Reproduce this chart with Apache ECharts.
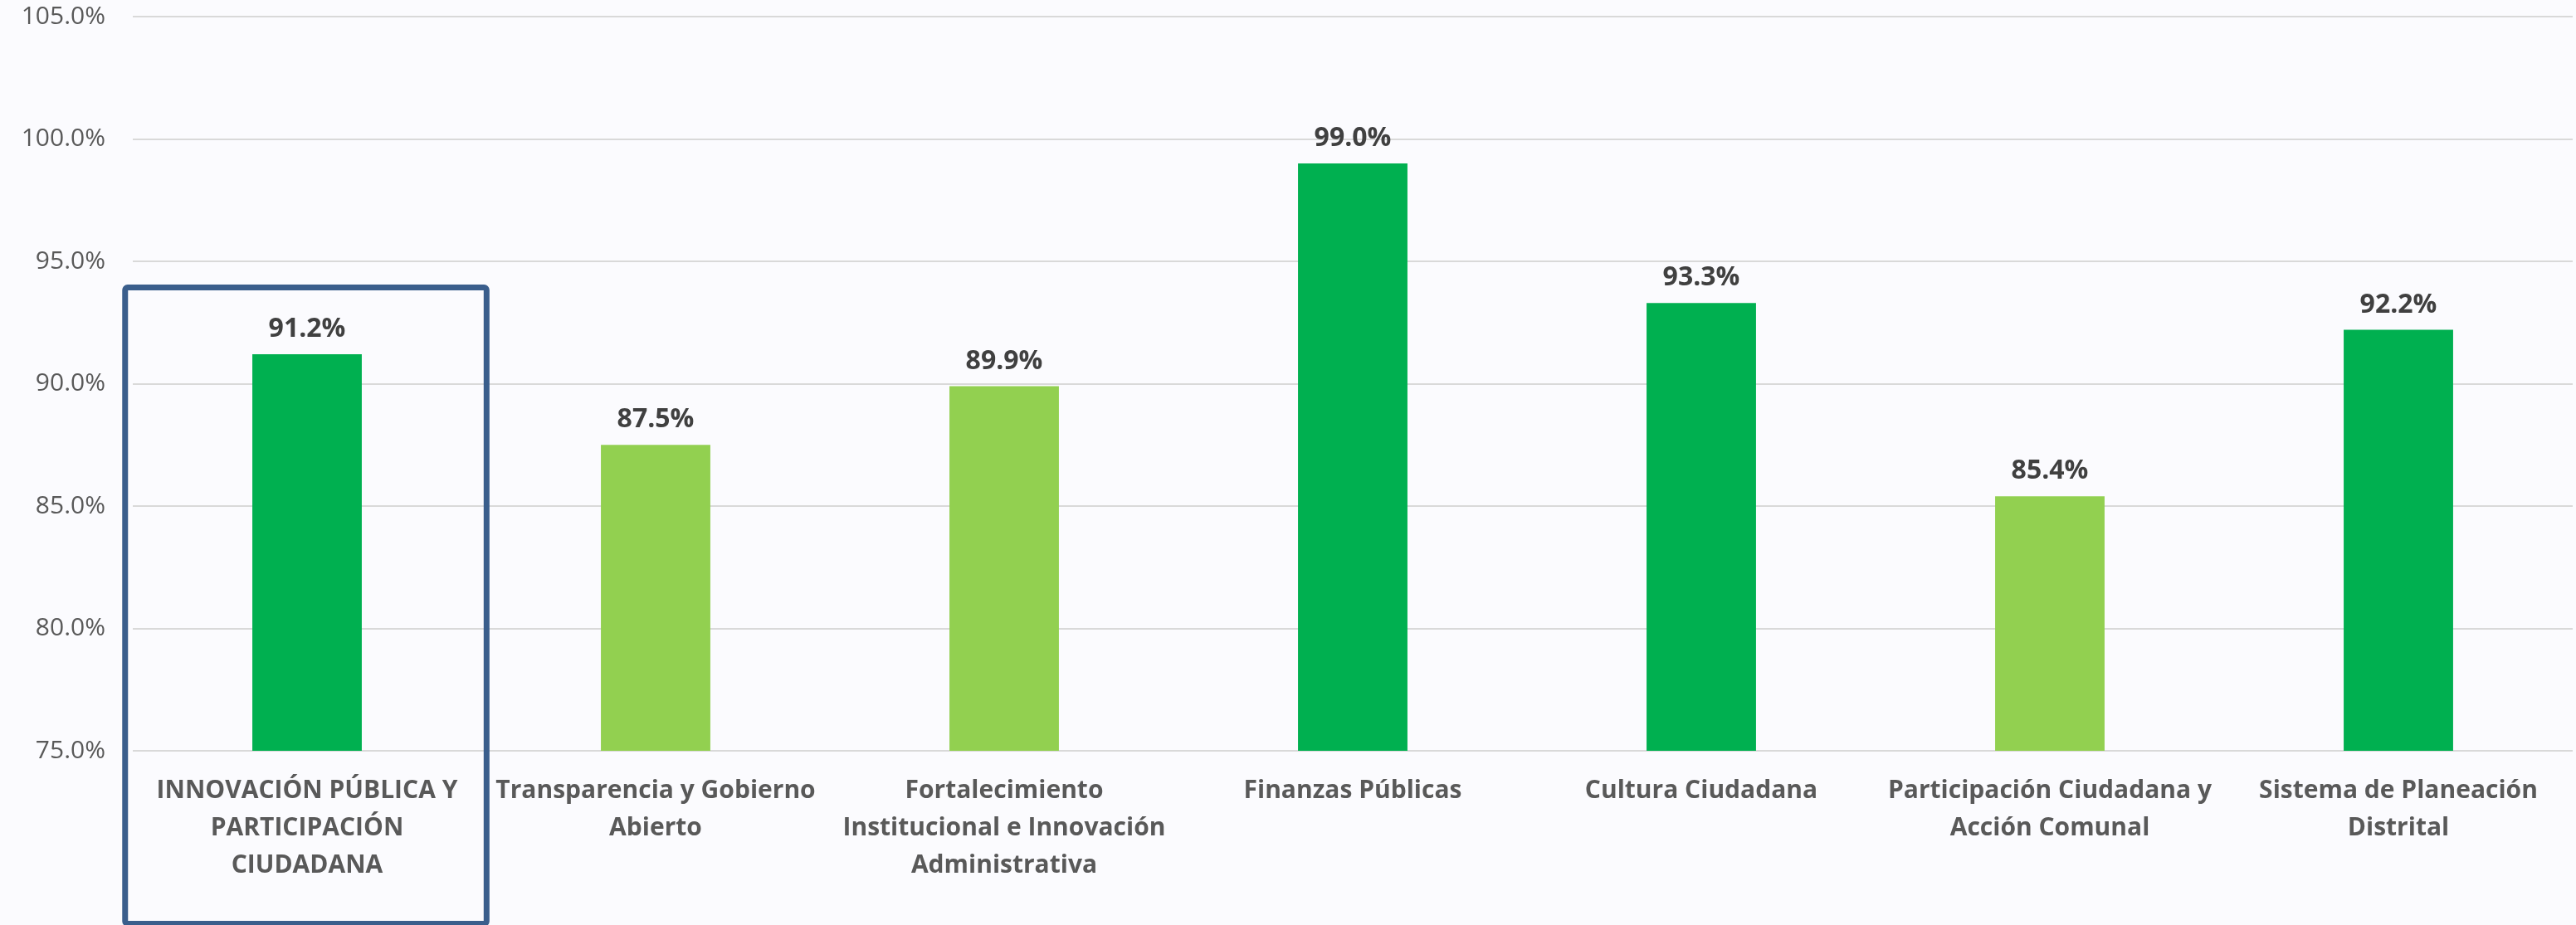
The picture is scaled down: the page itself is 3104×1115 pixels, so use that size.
<!DOCTYPE html>
<html>
<head>
<meta charset="utf-8">
<script src="https://cdn.jsdelivr.net/npm/echarts@6/dist/echarts.min.js"></script>
<style>
  html, body { margin: 0; padding: 0; background: #fbfbfe; }
  #chart { width: 3104px; height: 1115px; }
</style>
</head>
<body>
<div id="chart"></div>
<script>
// datos
const categories = [
  'INNOVACIÓN PÚBLICA Y\nPARTICIPACIÓN\nCIUDADANA',
  'Transparencia y Gobierno\nAbierto',
  'Fortalecimiento\nInstitucional e Innovación\nAdministrativa',
  'Finanzas Públicas',
  'Cultura Ciudadana',
  'Participación Ciudadana y\nAcción Comunal',
  'Sistema de Planeación\nDistrital'
]
const values = [91.2, 87.5, 89.9, 99.0, 93.3, 85.4, 92.2]
const yTicks = [75, 80, 85, 90, 95, 100, 105]

const darkGreen = '#00b050'
const lightGreen = '#92d050'

const chart = echarts.init(document.getElementById('chart'))

chart.setOption({
  backgroundColor: '#fbfbfe',
  animation: false,
  grid: { left: 160, right: 4, top: 20, bottom: 210 },
  xAxis: {
    type: 'category',
    data: categories,
    axisLine: { show: false },
    axisTick: { show: false },
    axisLabel: {
      interval: 0,
      margin: 26,
      fontFamily: 'Open Sans',
      fontWeight: 'bold',
      fontSize: 30,
      lineHeight: 45,
      color: '#595959'
    }
  },
  yAxis: {
    type: 'value',
    min: yTicks[0],
    max: yTicks[yTicks.length - 1],
    interval: 5,
    axisLine: { show: false },
    axisTick: { show: false },
    axisLabel: {
      margin: 33,
      fontFamily: 'Open Sans',
      fontSize: 30,
      color: '#595959',
      formatter: v => v.toFixed(1) + '%'
    },
    splitLine: { lineStyle: { color: '#d9d9d9', width: 2 } }
  },
  series: [{
    type: 'bar',
    barWidth: '31.4%',
    data: values.map(v => ({
      value: v,
      itemStyle: { color: v >= 90 ? darkGreen : lightGreen }
    })),
    label: {
      show: true,
      position: 'top',
      distance: 14,
      fontFamily: 'Open Sans',
      fontWeight: 'bold',
      fontSize: 32,
      color: '#404040',
      formatter: p => p.value.toFixed(1) + '%'
    }
  }]
})

// recuadro sobre la primera categoría
const drawBox = () => {
  const cx = chart.convertToPixel({ xAxisIndex: 0 }, categories[0])
  const x1 = chart.convertToPixel({ xAxisIndex: 0 }, categories[1])
  const band = x1 - cx
  const top = chart.convertToPixel({ yAxisIndex: 0 }, 94.05)
  const h = chart.getHeight()
  chart.setOption({
    graphic: [{
      type: 'rect',
      shape: { x: cx - band * 0.522, y: top + 3.5, width: band * 1.037, height: h - top - 5, r: 3 },
      style: { fill: 'none', stroke: '#3a5e8c', lineWidth: 7 },
      z: 10
    }]
  })
}
drawBox()
</script>
</body>
</html>
